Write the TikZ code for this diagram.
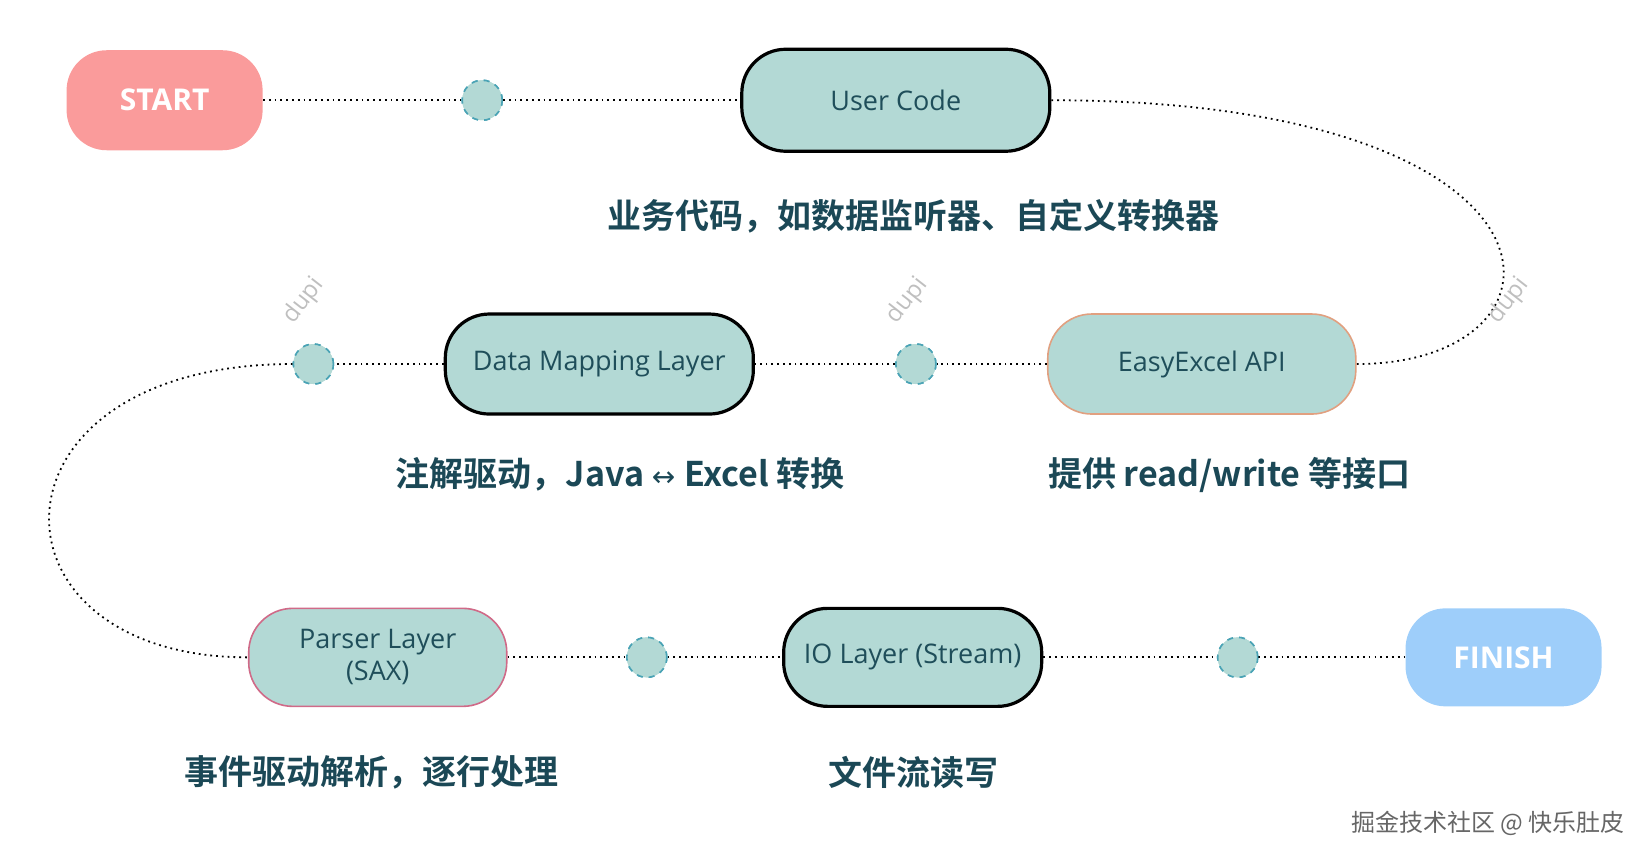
\documentclass[tikz,border=0pt]{standalone}
\usepackage{fontspec}
\setmainfont{Open Sans}
\newfontfamily\cjk{Noto Sans CJK SC}
\newfontfamily\cjkb{Noto Sans CJK SC Bold}
\begin{document}
\begin{tikzpicture}[x=0.5275pt,y=-0.5275pt,
  box/.style={draw, rounded corners=22pt, fill=teal1, text=txt, font=\fontsize{13.5}{16}\selectfont, inner sep=0pt, align=center},
  term/.style={rounded corners=20pt, text=white, font=\fontsize{15}{18}\selectfont\bfseries, inner sep=0pt},
  dot/.style={circle, minimum size=20pt, inner sep=0pt, fill=teal1, draw=dash, dashed, line width=0.8pt},
  lab/.style={text=lab, font=\cjkb\fontsize{17}{20}\selectfont},
  conn/.style={dotted, line width=0.9pt, black},
  dupi/.style={text=black!25, rotate=52, font=\fontsize{12}{14}\selectfont}]
\definecolor{teal1}{HTML}{B3D9D5}
\definecolor{txt}{HTML}{1F4E5A}
\definecolor{lab}{HTML}{1B4856}
\definecolor{dash}{HTML}{4AA3B5}
\useasboundingbox (0,0) rectangle (1560,812);
\node[term, fill={rgb,255:red,250;green,155;blue,155}, minimum width=98pt, minimum height=50pt] (start) at (156,95) {START};
\node[dot] (c1) at (457,95) {};
\node[box, line width=1.6pt, minimum width=154pt, minimum height=51pt] (user) at (849,95) {User Code};
\node[box, draw={rgb,255:red,225;green,160;blue,128}, line width=0.8pt, minimum width=154pt, minimum height=50pt] (api) at (1139,345) {EasyExcel API};
\node[dot] (c2) at (868,345) {};
\node[box, line width=1.6pt, minimum width=154pt, minimum height=50pt] (dm) at (568,345) {Data Mapping Layer};
\node[dot] (c3) at (297,345) {};
\node[box, draw={rgb,255:red,208;green,106;blue,136}, line width=0.8pt, minimum width=129pt, minimum height=49pt] (parser) at (358,623) {Parser Layer\\(SAX)};
\node[dot] (c4) at (613,623) {};
\node[box, line width=1.6pt, minimum width=129pt, minimum height=49pt] (io) at (865,623) {IO Layer (Stream)};
\node[dot] (c5) at (1173,623) {};
\node[term, fill={rgb,255:red,158;green,206;blue,250}, minimum width=98pt, minimum height=49pt] (finish) at (1425,623) {FINISH};
\draw[conn] (start) -- (c1) -- (user);
\draw[conn] (user.east) .. controls (1505,95) and (1505,345) .. (api.east);
\draw[conn] (api) -- (c2) -- (dm);
\draw[conn] (dm) -- (c3);
\draw[conn] (c3.west) .. controls (-23,345) and (-23,623) .. (parser.west);
\draw[conn] (parser) -- (c4) -- (io);
\draw[conn] (io) -- (c5) -- (finish);
\node[dot] at (c1) {};\node[dot] at (c2) {};\node[dot] at (c3) {};\node[dot] at (c4) {};\node[dot] at (c5) {};
\node[lab] (l1) at (866,205) {业务代码，如数据监听器、自定义转换器};
\node[lab] (l2) at (588,450) {注解驱动，Java \fontspec{DejaVu Sans}\fontsize{14}{16}\selectfont↔\ \cjkb\fontsize{17}{20}\selectfont Excel 转换};
\node[lab] (l3) at (1165,450) {提供 read/write 等接口};
\node[lab] (l4) at (352,732) {事件驱动解析，逐行处理};
\node[lab] (l5) at (866,732) {文件流读写};
\node[text=black!60, font=\cjk\fontsize{12}{14}\selectfont] (wm) at (1410,780) {掘金技术社区 @ 快乐肚皮};
\node[dupi] (d1) at (288,285) {dupi};
\node[dupi] (d2) at (860,285) {dupi};
\node[dupi] (d3) at (1430,285) {dupi};
\end{tikzpicture}
\end{document}
